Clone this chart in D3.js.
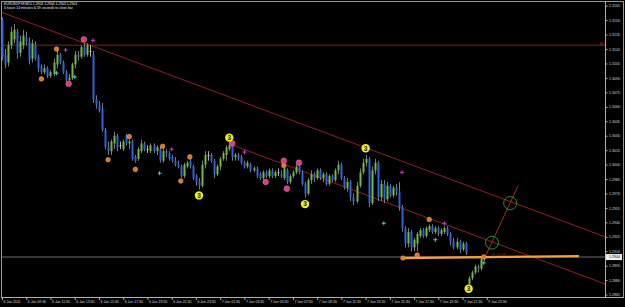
<!DOCTYPE html>
<html>
<head>
<meta charset="utf-8">
<script src="https://cdn.jsdelivr.net/npm/d3@7"></script>
<style>
  html, body { margin: 0; padding: 0; background: #000; }
  svg { display: block; font-family: "Liberation Sans", Arial, sans-serif; }
</style>
</head>
<body>
<svg id="chart" width="625" height="307"></svg>
<script>
const symbolLine = "EURUSDFXF,M15  1.2903 1.2904 1.2903 1.2904";
const timerLine = "0 hours 14 minutes & 59 seconds to close bar";

// M15 bars, [open, high, low, close]
const bars = [
  [1.3150,1.3153,1.3108,1.3112],[1.3114,1.3120,1.3100,1.3104],[1.3106,1.3128,1.3102,1.3124],[1.3124,1.3143,1.3120,1.3138],
  [1.3130,1.3146,1.3126,1.3140],[1.3138,1.3141,1.3110,1.3116],[1.3116,1.3134,1.3112,1.3128],[1.3124,1.3140,1.3120,1.3134],
  [1.3132,1.3138,1.3124,1.3128],[1.3128,1.3132,1.3104,1.3108],[1.3110,1.3130,1.3106,1.3126],[1.3124,1.3128,1.3108,1.3110],
  [1.3112,1.3114,1.3096,1.3100],[1.3102,1.3104,1.3094,1.3096],[1.3096,1.3104,1.3094,1.3100],[1.3100,1.3102,1.3090,1.3092],
  [1.3092,1.3098,1.3090,1.3096],[1.3094,1.3110,1.3092,1.3106],[1.3104,1.3118,1.3100,1.3114],[1.3114,1.3116,1.3104,1.3106],
  [1.3106,1.3108,1.3094,1.3096],[1.3096,1.3098,1.3086,1.3088],[1.3088,1.3094,1.3086,1.3090],[1.3090,1.3106,1.3088,1.3104],
  [1.3104,1.3118,1.3100,1.3114],[1.3114,1.3118,1.3108,1.3112],[1.3112,1.3124,1.3110,1.3122],[1.3122,1.3126,1.3112,1.3114],
  [1.3114,1.3126,1.3112,1.3124],[1.3118,1.3124,1.3112,1.3118],[1.3114,1.3118,1.3064,1.3068],[1.3068,1.3072,1.3058,1.3062],
  [1.3062,1.3066,1.3054,1.3056],[1.3058,1.3064,1.3034,1.3036],[1.3036,1.3038,1.3016,1.3018],[1.3018,1.3024,1.3010,1.3014],
  [1.3014,1.3026,1.3010,1.3024],[1.3022,1.3034,1.3016,1.3030],[1.3030,1.3032,1.3014,1.3018],[1.3020,1.3024,1.3016,1.3020],
  [1.3016,1.3026,1.3014,1.3024],[1.3030,1.3032,1.3020,1.3022],[1.3022,1.3026,1.3016,1.3024],[1.3024,1.3026,1.3004,1.3006],
  [1.3008,1.3010,1.3002,1.3004],[1.3006,1.3018,1.3004,1.3016],[1.3014,1.3026,1.3012,1.3022],[1.3022,1.3024,1.3014,1.3016],
  [1.3016,1.3020,1.3012,1.3016],[1.3014,1.3022,1.3012,1.3020],[1.3020,1.3022,1.3012,1.3014],[1.3014,1.3020,1.3010,1.3018],
  [1.3016,1.3018,1.3002,1.3004],[1.3004,1.3018,1.3002,1.3014],[1.3014,1.3016,1.3008,1.3012],[1.3012,1.3014,1.3004,1.3006],
  [1.3008,1.3010,1.3002,1.3004],[1.3004,1.3008,1.2998,1.3000],[1.3000,1.3004,1.2996,1.2998],[1.2998,1.3000,1.2986,1.2988],
  [1.2988,1.3002,1.2986,1.3000],[1.2998,1.3004,1.2996,1.3002],[1.3004,1.3006,1.2996,1.2998],[1.2998,1.3000,1.2984,1.2986],
  [1.2988,1.2990,1.2978,1.2982],[1.2982,1.2986,1.2974,1.2978],[1.2978,1.3004,1.2976,1.3000],[1.3000,1.3014,1.2996,1.3010],
  [1.3010,1.3014,1.3004,1.3010],[1.3010,1.3012,1.3002,1.3004],[1.3004,1.3006,1.2986,1.2990],[1.2990,1.3000,1.2988,1.2998],
  [1.2998,1.3008,1.2994,1.3006],[1.3006,1.3014,1.3004,1.3012],[1.3010,1.3020,1.3004,1.3018],[1.3016,1.3024,1.3014,1.3020],
  [1.3020,1.3022,1.3004,1.3008],[1.3008,1.3012,1.3004,1.3010],[1.3010,1.3012,1.3004,1.3006],[1.3008,1.3010,1.3000,1.3002],
  [1.3002,1.3004,1.2996,1.2998],[1.2998,1.3004,1.2996,1.3002],[1.3000,1.3002,1.2992,1.2994],[1.2994,1.2998,1.2992,1.2996],
  [1.2996,1.2998,1.2986,1.2988],[1.2990,1.2992,1.2984,1.2986],[1.2986,1.2994,1.2984,1.2992],[1.2992,1.2994,1.2986,1.2988],
  [1.2988,1.2996,1.2986,1.2994],[1.2994,1.2996,1.2986,1.2988],[1.2988,1.2994,1.2986,1.2992],[1.2992,1.2996,1.2988,1.2992],
  [1.2990,1.2994,1.2986,1.2988],[1.2986,1.2998,1.2984,1.2996],[1.2994,1.2996,1.2980,1.2982],[1.2982,1.2990,1.2980,1.2988],
  [1.2988,1.2994,1.2986,1.2992],[1.2992,1.3000,1.2990,1.2998],[1.2998,1.3000,1.2990,1.2992],[1.2992,1.2994,1.2978,1.2980],
  [1.2980,1.2982,1.2966,1.2970],[1.2970,1.2986,1.2968,1.2984],[1.2984,1.2994,1.2980,1.2990],[1.2990,1.2992,1.2982,1.2986],
  [1.2986,1.2996,1.2984,1.2994],[1.2994,1.2996,1.2984,1.2986],[1.2986,1.2992,1.2982,1.2990],[1.2990,1.2992,1.2978,1.2980],
  [1.2980,1.2990,1.2978,1.2988],[1.2988,1.2990,1.2982,1.2984],[1.2984,1.2996,1.2982,1.2994],[1.2994,1.3004,1.2990,1.3000],
  [1.3000,1.3002,1.2984,1.2986],[1.2986,1.2988,1.2974,1.2976],[1.2976,1.2986,1.2972,1.2982],[1.2982,1.2984,1.2962,1.2966],
  [1.2966,1.2970,1.2958,1.2962],[1.2962,1.2982,1.2960,1.2978],[1.2978,1.2996,1.2976,1.2992],[1.2992,1.3006,1.2990,1.3002],
  [1.3002,1.3010,1.2998,1.3006],[1.3006,1.3008,1.2956,1.2960],[1.2960,1.2998,1.2958,1.2994],[1.2994,1.3006,1.2990,1.3002],
  [1.3002,1.3004,1.2962,1.2966],[1.2966,1.2984,1.2962,1.2980],[1.2980,1.2984,1.2960,1.2964],[1.2964,1.2982,1.2962,1.2978],
  [1.2978,1.2980,1.2966,1.2968],[1.2968,1.2978,1.2966,1.2976],[1.2976,1.2980,1.2968,1.2972],[1.2972,1.2982,1.2952,1.2956],
  [1.2956,1.2958,1.2930,1.2934],[1.2934,1.2936,1.2914,1.2918],[1.2918,1.2934,1.2914,1.2930],[1.2930,1.2932,1.2910,1.2914],
  [1.2914,1.2924,1.2910,1.2922],[1.2918,1.2930,1.2910,1.2928],[1.2926,1.2934,1.2924,1.2932],[1.2932,1.2934,1.2924,1.2926],
  [1.2926,1.2936,1.2924,1.2934],[1.2932,1.2938,1.2930,1.2936],[1.2936,1.2938,1.2928,1.2930],[1.2930,1.2936,1.2928,1.2934],
  [1.2934,1.2936,1.2926,1.2928],[1.2928,1.2934,1.2926,1.2932],[1.2930,1.2936,1.2928,1.2934],[1.2934,1.2936,1.2926,1.2928],
  [1.2928,1.2930,1.2916,1.2920],[1.2920,1.2924,1.2912,1.2914],[1.2914,1.2924,1.2912,1.2920],[1.2920,1.2922,1.2908,1.2912],
  [1.2912,1.2920,1.2910,1.2918],[1.2918,1.2920,1.2906,1.2908],[1.2876,1.2884,1.2874,1.2882],[1.2882,1.2890,1.2880,1.2888],
  [1.2888,1.2896,1.2886,1.2894],[1.2894,1.2896,1.2888,1.2892],[1.2892,1.2904,1.2890,1.2902],[1.2902,1.2906,1.2900,1.2904]
];

const timeLabels = [
  "6 Jan 2011", "6 Jan 09:30", "6 Jan 11:30", "6 Jan 13:30", "6 Jan 15:30", "6 Jan 17:30",
  "6 Jan 19:30", "6 Jan 21:30", "6 Jan 23:30", "7 Jan 01:30", "7 Jan 03:30", "7 Jan 05:30",
  "7 Jan 07:30", "7 Jan 09:30", "7 Jan 11:30", "7 Jan 13:30", "7 Jan 15:30", "7 Jan 17:30",
  "7 Jan 19:30", "7 Jan 21:30", "9 Jan 23:30"
];
const barsPerLabel = 8;

const priceTicks = [
  1.3165, 1.3150, 1.3135, 1.3120, 1.3105, 1.3090, 1.3075, 1.3060, 1.3045, 1.3030, 1.3015,
  1.3000, 1.2985, 1.2970, 1.2955, 1.2940, 1.2925, 1.2910, 1.2895, 1.2880, 1.2865
];
const lastPrice = 1.2904;

// indicator marks: [bar, price]
const orangeDots = [[13,1.3089],[18,1.3120],[35,1.3005],[42,1.3029],[44,1.2995],[53,1.3019],
  [59,1.2983],[62,1.3008],[93,1.2999],[137,1.2906],[141,1.2943],[159,1.2904]];
const pinkDots = [[22,1.3084],[27,1.3130],[76,1.3022],[87,1.2982],[93,1.3004],[94,1.2975],[98,1.3002]];
const magentaPlus = [[21,1.3119],[30,1.3129],[56,1.3016],[80,1.3013],[132,1.2992],[146,1.2939]];
const cyanPlus = [[18,1.3095],[24,1.3091],[52,1.2991],[126,1.2939],[143,1.2922],[159,1.2898]];
const waveThree = [[65,1.2968],[75,1.3028],[100,1.2959],[120,1.3017],[154,1.2871]];

// drawn objects
const resistanceLevel = 1.3124;
const upperChannel = [[0,1.3158],[199,1.2925]];
const lowerChannel = [[76.3,1.3020],[199,1.2876]];
const projection = [[159.4,1.2904],[170.3,1.2978]];
const targetRings = [[161.7,1.2919],[167.7,1.2960]];
const supportLine = [[132.3,1.2903],[190.4,1.2905]];

const width = 625;
const height = 307;
const plot = { left: 1, top: 1, right: 605, bottom: 297 };

const svg = d3.select("#chart");
svg.append("rect").attr("width", width).attr("height", height).attr("fill", "#000");

const x = d3.scaleLinear().domain([0, 199]).range([2, 605]);
const y = d3.scaleLinear().domain([1.2865, 1.3165]).range([294.6, 5.7]);

const line = d3.line().x((d) => x(d[0])).y((d) => y(d[1]));

// frame
svg.append("path")
  .attr("d", `M${plot.left},${plot.bottom} V${plot.top} H623 V${plot.bottom} H${plot.left}`)
  .attr("fill", "none")
  .attr("stroke", "#9a9a9a")
  .attr("stroke-width", 1)
  .attr("shape-rendering", "crispEdges");

// last price line
svg.append("line")
  .attr("x1", plot.left).attr("x2", plot.right)
  .attr("y1", y(lastPrice)).attr("y2", y(lastPrice))
  .attr("stroke", "#8a8a8a").attr("stroke-width", 0.8);

// resistance
svg.append("line")
  .attr("x1", plot.left).attr("x2", plot.right)
  .attr("y1", y(resistanceLevel)).attr("y2", y(resistanceLevel))
  .attr("stroke", "#8c1c1c").attr("stroke-width", 1);
svg.append("text")
  .attr("x", 606).attr("y", y(resistanceLevel) - 0.6)
  .attr("text-anchor", "end")
  .attr("fill", "#c0392b")
  .attr("font-size", 3.4)
  .text("35.2");

// channel lines
[upperChannel, lowerChannel].forEach((seg) => {
  svg.append("path").attr("d", line(seg))
    .attr("fill", "none").attr("stroke", "#a52222").attr("stroke-width", 0.9);
});

// candles
const candles = svg.append("g").attr("class", "candles");
const bullColour = "#72bb3c";
const bearColour = "#2c63dc";
const candleColour = (d) => (d[3] > d[0] ? bullColour : d[3] < d[0] ? bearColour : "#d8d8d8");

candles.selectAll(".wick").data(bars).enter().append("line")
  .attr("class", "wick")
  .attr("x1", (d, i) => Math.round(x(i)) + 0.5)
  .attr("x2", (d, i) => Math.round(x(i)) + 0.5)
  .attr("y1", (d) => y(d[1]))
  .attr("y2", (d) => y(d[2]))
  .attr("stroke", (d) => (d[3] === d[0] ? "#d8d8d8" : "#9c9c9c"))
  .attr("stroke-width", 0.8);

candles.selectAll(".body").data(bars).enter().append("rect")
  .attr("class", "body")
  .attr("x", (d, i) => Math.round(x(i)) - 0.5)
  .attr("width", 2)
  .attr("y", (d) => y(Math.max(d[0], d[3])))
  .attr("height", (d) => Math.max(0.8, Math.abs(y(d[0]) - y(d[3]))))
  .attr("fill", candleColour);

// support line (orange)
svg.append("path").attr("d", line(supportLine))
  .attr("fill", "none").attr("stroke", "#f2a23a").attr("stroke-width", 2.4);
svg.append("circle")
  .attr("cx", x(supportLine[0][0])).attr("cy", y(supportLine[0][1])).attr("r", 2.2)
  .attr("fill", "#e07a22").attr("stroke", "#f5b060").attr("stroke-width", 0.6);

// projection line + rings
svg.append("path").attr("d", line(projection))
  .attr("fill", "none").attr("stroke", "#c8382e").attr("stroke-width", 0.8);
svg.selectAll(".ring").data(targetRings).enter().append("circle")
  .attr("class", "ring")
  .attr("cx", (d) => x(d[0])).attr("cy", (d) => y(d[1])).attr("r", 6.5)
  .attr("fill", "none").attr("stroke", "#2b8f2b").attr("stroke-width", 1);
svg.append("text")
  .attr("x", x(161.5)).attr("y", y(1.2905))
  .attr("fill", "#5b3f86").attr("font-size", 4)
  .text("@ 11.59");

// markers
svg.selectAll(".orangeDot").data(orangeDots).enter().append("circle")
  .attr("class", "orangeDot")
  .attr("cx", (d) => x(d[0])).attr("cy", (d) => y(d[1])).attr("r", 2.3)
  .attr("fill", "#d9772a").attr("stroke", "#f4a860").attr("stroke-width", 0.6);

svg.selectAll(".pinkDot").data(pinkDots).enter().append("circle")
  .attr("class", "pinkDot")
  .attr("cx", (d) => x(d[0])).attr("cy", (d) => y(d[1])).attr("r", 2.8)
  .attr("fill", "#d23f7f").attr("stroke", "#f06aa6").attr("stroke-width", 0.6);

const plusPath = (d) => {
  const cx = x(d[0]), cy = y(d[1]);
  return `M${cx - 2},${cy} H${cx + 2} M${cx},${cy - 2} V${cy + 2}`;
};
svg.selectAll(".magPlus").data(magentaPlus).enter().append("path")
  .attr("class", "magPlus").attr("d", plusPath)
  .attr("stroke", "#d43cd8").attr("stroke-width", 1);
svg.selectAll(".cyanPlus").data(cyanPlus).enter().append("path")
  .attr("class", "cyanPlus").attr("d", plusPath)
  .attr("stroke", "#33d6c6").attr("stroke-width", 1);

const threes = svg.selectAll(".three").data(waveThree).enter().append("g")
  .attr("class", "three")
  .attr("transform", (d) => `translate(${x(d[0])},${y(d[1])})`);
threes.append("circle").attr("r", 4.2).attr("fill", "#f4ee1c");
threes.append("text")
  .attr("y", 2.3).attr("text-anchor", "middle")
  .attr("font-size", 6.5).attr("font-weight", "bold").attr("fill", "#1a1a1a")
  .text("3");

// y axis
const yAxis = d3.axisRight(y).tickValues(priceTicks).tickFormat(d3.format(".4f")).tickSize(2.5);
const yAxisG = svg.append("g").attr("transform", `translate(${plot.right},0)`).call(yAxis);
yAxisG.select(".domain").remove();
yAxisG.selectAll("line").attr("stroke", "#b0b0b0");
yAxisG.selectAll("text").attr("fill", "#d8d8d8").attr("font-size", 3.6).attr("x", 4);
svg.append("line")
  .attr("x1", plot.right + 0.5).attr("x2", plot.right + 0.5)
  .attr("y1", plot.top).attr("y2", plot.bottom)
  .attr("stroke", "#b0b0b0").attr("stroke-width", 1);

// last price box
svg.append("rect")
  .attr("x", 606).attr("y", y(lastPrice) - 3)
  .attr("width", 16).attr("height", 6)
  .attr("fill", "#f0f0f0");
svg.append("text")
  .attr("x", 609).attr("y", y(lastPrice) + 1.3)
  .attr("fill", "#000").attr("font-size", 3.6)
  .text(d3.format(".4f")(lastPrice));

// x axis
const xAxis = d3.axisBottom(x)
  .tickValues(timeLabels.map((t, i) => i * barsPerLabel))
  .tickFormat((d, i) => timeLabels[i])
  .tickSize(3);
const xAxisG = svg.append("g").attr("transform", `translate(0,${plot.bottom})`).call(xAxis);
xAxisG.select(".domain").remove();
xAxisG.selectAll("line").attr("stroke", "#b0b0b0");
xAxisG.selectAll("text")
  .attr("fill", "#d8d8d8").attr("font-size", 3.5)
  .attr("text-anchor", "start").attr("dx", 1).attr("y", 3.2);
svg.append("line")
  .attr("x1", plot.left).attr("x2", 623)
  .attr("y1", plot.bottom + 0.5).attr("y2", plot.bottom + 0.5)
  .attr("stroke", "#b0b0b0").attr("stroke-width", 1);

// header
svg.append("text").attr("x", 4).attr("y", 5.3)
  .attr("fill", "#e8e8e8").attr("font-size", 3.4).text(symbolLine);
svg.append("text").attr("x", 4).attr("y", 9.3)
  .attr("fill", "#e8e8e8").attr("font-size", 3.4).text(timerLine);
</script>
</body>
</html>
